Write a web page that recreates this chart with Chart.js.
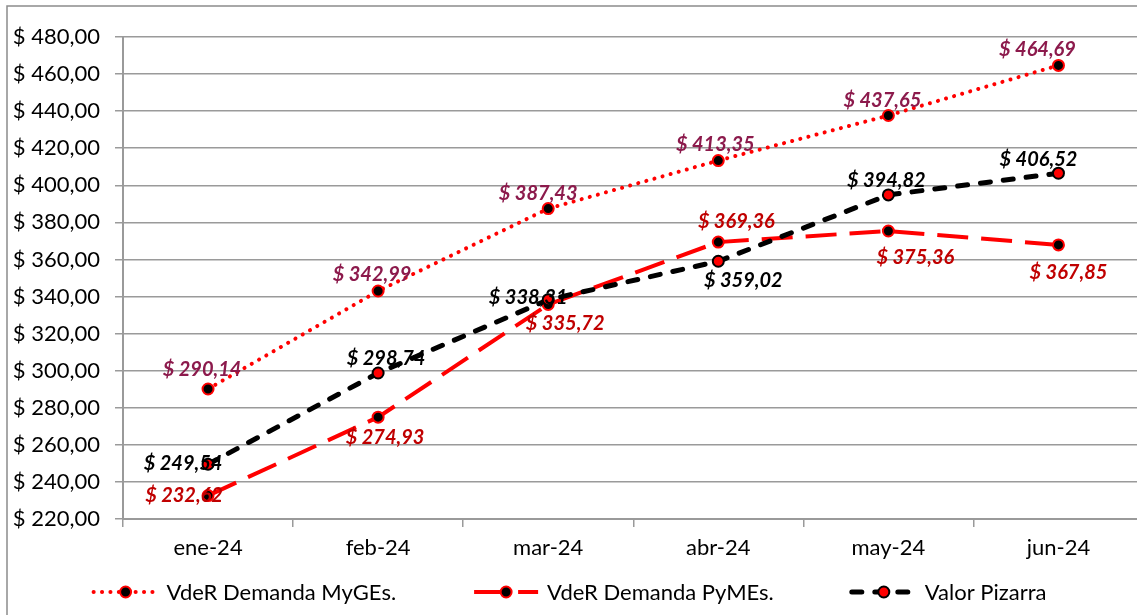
<!DOCTYPE html>
<html>
<head>
<meta charset="utf-8">
<script src="https://cdn.jsdelivr.net/npm/chart.js@4"></script>
<style>
  html, body { margin: 0; padding: 0; background: #fff; overflow: hidden; }
  #wrap { width: 1137px; height: 615px; overflow: hidden; position: relative; }
</style>
</head>
<body>
<div id="wrap"><canvas id="chart" width="1151" height="615"></canvas></div>
<script>
// Data
const months = ['ene-24', 'feb-24', 'mar-24', 'abr-24', 'may-24', 'jun-24'];
const myges = [290.14, 342.99, 387.43, 413.35, 437.65, 464.69];
const pymes = [232.62, 274.93, 335.72, 369.36, 375.36, 367.85];
const pizarra = [249.54, 298.74, 338.31, 359.02, 394.82, 406.52];
const yMin = 220, yMax = 480, yStep = 20;

// Label placement (offset of each value label from its point, px)
const mygesLabelOffsets = [[-6, -19], [-6, -16], [-10, -15], [-3, -16], [-6, -15], [-21, -16]];
const pymesLabelOffsets = [[-24, 0], [7, 20], [17, 19], [18, -21], [27, 27], [10, 28]];
const pizarraLabelOffsets = [[-25, -1], [8, -14], [-20, -2], [25, 19], [-2, -14], [-20, -14]];

const FONT = 'Lato, "Open Sans", sans-serif';
const GRID = '#9a9a9a';

const money = v => '$ ' + v.toFixed(2).replace('.', ',');

// Outer frame
const framePlugin = {
    id: 'frame',
    beforeDraw(chart) {
        const ctx = chart.ctx;
        ctx.save();
        ctx.strokeStyle = '#8c8c8c';
        ctx.lineWidth = 1.5;
        ctx.strokeRect(7, 6, 2000, 2000);
        ctx.restore();
    }
};

// Value labels next to the points
const valueLabels = {
    id: 'valueLabels',
    afterDatasetsDraw(chart) {
        const ctx = chart.ctx;
        ctx.save();
        ctx.font = 'italic bold 20px ' + FONT;
        ctx.textAlign = 'center';
        ctx.textBaseline = 'middle';
        chart.data.datasets.forEach((ds, i) => {
            const meta = chart.getDatasetMeta(i);
            ctx.fillStyle = ds.labelColor;
            meta.data.forEach((pt, j) => {
                const off = ds.labelOffsets[j];
                ctx.fillText(money(ds.data[j]), pt.x + off[0], pt.y + off[1]);
            });
        });
        ctx.restore();
    }
};

// Legend with line + marker symbols
const lineLegend = {
    id: 'lineLegend',
    afterDraw(chart) {
        const ctx = chart.ctx;
        const y = 592;
        const symW = 64, gapText = 9, gapItem = 78;
        ctx.save();
        ctx.font = '22px ' + FONT;
        ctx.textBaseline = 'middle';
        const items = chart.data.datasets.map(ds => ({ ds, w: symW + gapText + ctx.measureText(ds.label).width }));
        const total = items.reduce((s, it) => s + it.w, 0) + gapItem * (items.length - 1);
        let x = 570 - total / 2;
        items.forEach(({ ds, w }) => {
            ctx.save();
            ctx.strokeStyle = ds.borderColor;
            ctx.lineWidth = ds.borderWidth;
            ctx.lineCap = ds.borderCapStyle || 'butt';
            ctx.setLineDash(ds.borderDash || []);
            ctx.beginPath();
            ctx.moveTo(x, y);
            ctx.lineTo(x + symW, y);
            ctx.stroke();
            ctx.setLineDash([]);
            ctx.beginPath();
            ctx.arc(x + symW / 2, y, ds.pointRadius, 0, Math.PI * 2);
            ctx.fillStyle = ds.pointBackgroundColor;
            ctx.fill();
            ctx.lineWidth = ds.pointBorderWidth;
            ctx.strokeStyle = ds.pointBorderColor;
            ctx.stroke();
            ctx.restore();
            ctx.fillStyle = '#000';
            ctx.fillText(ds.label, x + symW + gapText, y + 1);
            x += w + gapItem;
        });
        ctx.restore();
    }
};

new Chart(document.getElementById('chart'), {
    type: 'line',
    data: {
        labels: months,
        datasets: [
            {
                label: 'VdeR Demanda MyGEs.',
                data: myges,
                borderColor: '#ff0000',
                borderWidth: 4,
                borderDash: [0.1, 8.3],
                borderCapStyle: 'round',
                pointRadius: 5.5,
                pointBackgroundColor: '#000000',
                pointBorderColor: '#ff0000',
                pointBorderWidth: 2,
                labelColor: '#8c1a4c',
                labelOffsets: mygesLabelOffsets,
                order: 2
            },
            {
                label: 'VdeR Demanda PyMEs.',
                data: pymes,
                borderColor: '#ff0000',
                borderWidth: 4,
                borderDash: [31, 13],
                borderCapStyle: 'butt',
                pointRadius: 5.5,
                pointBackgroundColor: '#000000',
                pointBorderColor: '#ff0000',
                pointBorderWidth: 2,
                labelColor: '#c00000',
                labelOffsets: pymesLabelOffsets,
                order: 1
            },
            {
                label: 'Valor Pizarra',
                data: pizarra,
                borderColor: '#000000',
                borderWidth: 5,
                borderDash: [10, 13],
                borderCapStyle: 'round',
                pointRadius: 5.5,
                pointBackgroundColor: '#ff0000',
                pointBorderColor: '#000000',
                pointBorderWidth: 2,
                labelColor: '#000000',
                labelOffsets: pizarraLabelOffsets,
                order: 0
            }
        ]
    },
    options: {
        responsive: false,
        animation: false,
        events: [],
        layout: { padding: { top: 37, left: 0, right: 0, bottom: 46 } },
        elements: { line: { tension: 0, fill: false } },
        plugins: {
            legend: { display: false },
            tooltip: { enabled: false }
        },
        scales: {
            x: {
                offset: true,
                afterFit: s => { s.height = 50; },
                grid: {
                    offset: true,
                    drawOnChartArea: false,
                    drawTicks: true,
                    tickLength: 8,
                    color: GRID,
                    lineWidth: 1.5
                },
                border: { color: GRID, width: 2 },
                ticks: { color: '#000', font: { family: FONT, size: 22 }, padding: 8, maxRotation: 0 }
            },
            y: {
                min: yMin,
                max: yMax,
                afterFit: s => { s.width = 123; },
                grid: { color: GRID, lineWidth: 1.5, tickLength: 8 },
                border: { color: GRID, width: 2 },
                ticks: {
                    stepSize: yStep,
                    color: '#000',
                    padding: 15,
                    font: { family: FONT, size: 22 },
                    callback: v => money(v)
                }
            }
        }
    },
    plugins: [framePlugin, valueLabels, lineLegend]
});
</script>
</body>
</html>
